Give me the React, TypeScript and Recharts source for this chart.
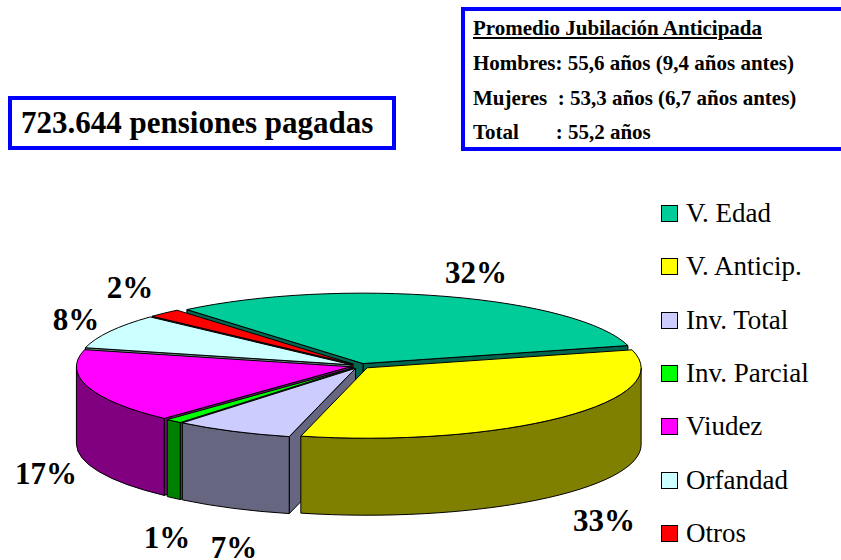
import { PieChart, Pie, Legend } from "recharts";

const categories = ["V. Edad", "V. Anticip.", "Inv. Total", "Inv. Parcial", "Viudez", "Orfandad", "Otros"];
const values = [32, 33, 7, 1, 17, 8, 2];
const topColors = ["#00cc99", "#ffff00", "#ccccff", "#00ff00", "#ff00ff", "#ccffff", "#ff0000"];
const sideColors = ["#006650", "#808000", "#666680", "#008000", "#800080", "#668080", "#800000"];

// painted back to front, going counter-clockwise from V. Edad
const drawOrder = [0, 6, 5, 4, 3, 2, 1];
const pieData = drawOrder.map((i) => ({
  name: categories[i],
  value: values[i],
  fill: topColors[i],
  side: sideColors[i],
}));

const summaryLines = ["Hombres: 55,6 años (9,4 años antes)", "Mujeres  : 53,3 años (6,7 años antes)", "Total       : 55,2 años"];

// hand placed percent labels (centre x, baseline y)
const labelSpots: Record<string, [number, number]> = {
  "V. Edad": [476, 283],
  "V. Anticip.": [604, 531],
  "Inv. Total": [234, 558],
  "Inv. Parcial": [167, 548],
  Viudez: [46, 484],
  Orfandad: [76, 330],
  Otros: [130, 298],
};

const TILT = 0.257;
const DEPTH = 77;
const EXPLODE = 10;
const FONT = "'Liberation Serif', 'Times New Roman', serif";

function Slice3D(props: any) {
  const { cx, cy, outerRadius: r, startAngle, endAngle, fill, payload } = props;
  const side = payload?.side ?? props.side;
  const rad = (a: number) => (a * Math.PI) / 180;
  const mid = rad((startAngle + endAngle) / 2);
  const ox = cx + EXPLODE * Math.cos(mid);
  const oy = cy - EXPLODE * Math.sin(mid) * TILT;
  const ry = r * TILT;
  const px = (a: number) => ox + r * Math.cos(rad(a));
  const py = (a: number) => oy - ry * Math.sin(rad(a));
  const large = Math.abs(endAngle - startAngle) > 180 ? 1 : 0;

  const face = (a: number) =>
    `M${ox},${oy} L${px(a)},${py(a)} L${px(a)},${py(a) + DEPTH} L${ox},${oy + DEPTH} Z`;

  // outer wall only where the rim faces the viewer
  const walls: string[] = [];
  for (const [lo, hi] of [[180, 360], [540, 720]]) {
    const a0 = Math.max(startAngle, lo);
    const a1 = Math.min(endAngle, hi);
    if (a1 > a0) {
      walls.push(
        `M${px(a0)},${py(a0)} A${r},${ry} 0 0 0 ${px(a1)},${py(a1)} ` +
          `L${px(a1)},${py(a1) + DEPTH} A${r},${ry} 0 0 1 ${px(a0)},${py(a0) + DEPTH} Z`
      );
    }
  }

  return (
    <g stroke="#000" strokeWidth={1} strokeLinejoin="round">
      {Math.cos(rad(startAngle)) > 0 && <path d={face(startAngle)} fill={side} />}
      {Math.cos(rad(endAngle)) < 0 && <path d={face(endAngle)} fill={side} />}
      {walls.map((d, i) => (
        <path key={i} d={d} fill={side} />
      ))}
      <path
        d={`M${ox},${oy} L${px(startAngle)},${py(startAngle)} A${r},${ry} 0 ${large} 0 ${px(endAngle)},${py(endAngle)} Z`}
        fill={fill}
      />
    </g>
  );
}

function PercentLabel(props: any) {
  const [x, y] = labelSpots[props.name];
  return (
    <text x={x} y={y} textAnchor="middle" fontFamily={FONT} fontWeight="bold" fontSize={31} fill="#000">
      {props.value}%
    </text>
  );
}

function LegendRows({ payload }: any) {
  const rows = [...(payload ?? [])].sort((a, b) => categories.indexOf(a.value) - categories.indexOf(b.value));
  return (
    <div>
      {rows.map((row: any) => (
        <div key={row.value} style={{ display: "flex", alignItems: "center", height: 53.3, fontFamily: FONT, fontSize: 27, color: "#000" }}>
          <span style={{ width: 15, height: 15, background: row.color, border: "1px solid #000", marginRight: 8 }} />
          {row.value}
        </div>
      ))}
    </div>
  );
}

const boxStyle = {
  position: "absolute" as const,
  boxSizing: "border-box" as const,
  border: "4px solid #0000ff",
  background: "#fff",
  fontFamily: FONT,
  fontWeight: "bold" as const,
  color: "#000",
  whiteSpace: "pre" as const,
};

export default function App() {
  return (
    <div style={{ position: "absolute", left: 0, top: 0, width: 841, height: 560, overflow: "hidden", background: "#fff" }}>
      <PieChart width={841} height={560} margin={{ top: 0, right: 0, bottom: 0, left: 0 }}>
        <Pie
          data={pieData}
          dataKey="value"
          nameKey="name"
          cx={360}
          cy={366}
          outerRadius={274}
          startAngle={14.8}
          endAngle={374.8}
          shape={Slice3D}
          label={PercentLabel}
          labelLine={false}
          isAnimationActive={false}
        />
        <Legend content={LegendRows} wrapperStyle={{ left: 661, top: 187, width: 180, bottom: "auto" }} />
      </PieChart>
      <div style={{ ...boxStyle, left: 8, top: 96, width: 388, height: 54, fontSize: 31, lineHeight: "46px", paddingLeft: 9 }}>
        723.644 pensiones pagadas
      </div>
      <div style={{ ...boxStyle, left: 461, top: 7, width: 390, height: 144, fontSize: 21, lineHeight: "34.8px", paddingLeft: 8, paddingTop: 0 }}>
        <div style={{ textDecoration: "underline" }}>Promedio Jubilación Anticipada</div>
        {summaryLines.map((line) => (
          <div key={line}>{line}</div>
        ))}
      </div>
    </div>
  );
}
